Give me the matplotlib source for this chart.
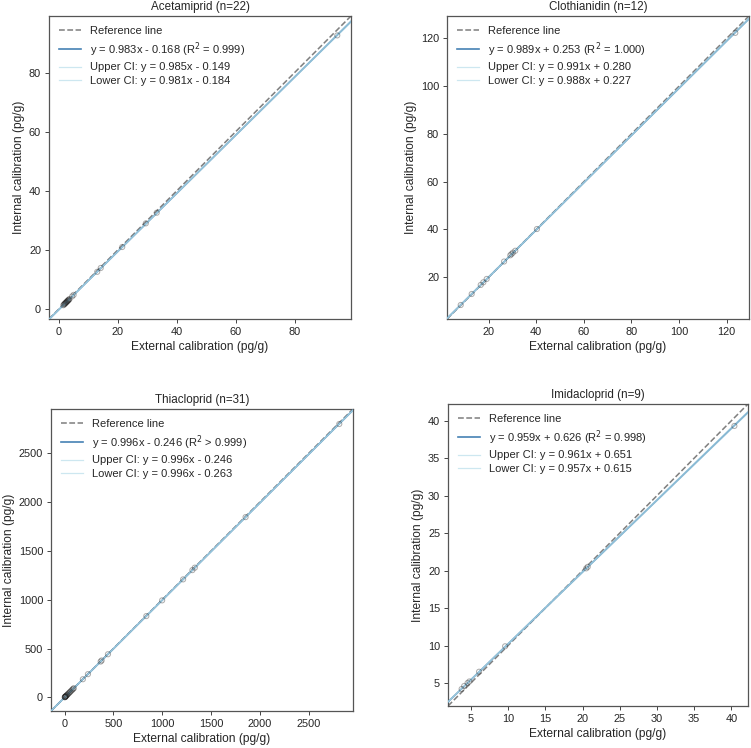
import numpy as np
import matplotlib
matplotlib.use('Agg')
from matplotlib import pyplot as plt

plt.rcParams['font.family'] = ['Liberation Sans', 'DejaVu Sans']

# ---- data ----
compounds = ['Acetamiprid', 'Clothianidin', 'Thiacloprid', 'Imidacloprid']

acet_ext = [1.5, 1.7, 1.9, 2.0, 2.2, 2.3, 2.5, 2.6, 2.8, 2.9, 3.1, 3.2, 3.4, 3.6,
            4.5, 5.0, 13.0, 14.2, 21.5, 29.5, 33.2, 94.5]
acet_int = [1.3, 1.5, 1.7, 1.8, 2.0, 2.1, 2.3, 2.4, 2.6, 2.7, 2.9, 3.0, 3.2, 3.4,
            4.3, 4.8, 12.6, 13.9, 21.0, 29.0, 32.6, 92.6]

clot_ext = [8.3, 12.9, 16.7, 17.8, 19.2, 26.5, 29.1, 29.6, 30.2, 31.2, 40.3, 123.6]
clot_int = [8.4, 13.0, 16.8, 17.9, 19.3, 26.6, 29.2, 29.7, 30.3, 31.1, 40.2, 122.3]

thia_ext = [2, 4, 5, 7, 9, 11, 14, 18, 22, 27, 33, 40, 48, 55, 63, 72, 80, 88, 95,
            188, 240, 370, 380, 445, 838, 1000, 1215, 1310, 1335, 1855, 2815]
thia_int = [2, 4, 5, 7, 9, 11, 14, 18, 22, 27, 33, 40, 48, 55, 63, 72, 80, 88, 95,
            187, 239, 368, 379, 443, 834, 995, 1210, 1305, 1330, 1848, 2802]

imid_ext = [3.76, 4.1, 4.56, 4.8, 6.1, 9.6, 20.5, 20.7, 40.4]
imid_int = [4.2, 4.6, 5.0, 5.2, 6.5, 9.9, 20.3, 20.5, 39.3]

# fit lines (slope, intercept) as printed on the chart
fit_main = [(0.983, -0.168), (0.989, 0.253), (0.996, -0.246), (0.959, 0.626)]
fit_upper = [(0.985, -0.149), (0.991, 0.280), (0.996, -0.246), (0.961, 0.651)]
fit_lower = [(0.981, -0.184), (0.988, 0.227), (0.996, -0.263), (0.957, 0.615)]
r2_text = ['= 0.999', '= 1.000', '> 0.999', '= 0.998']

xs = [acet_ext, clot_ext, thia_ext, imid_ext]
ys = [acet_int, clot_int, thia_int, imid_int]

# axes boxes in pixels: left, top, right, bottom
W, H = 751, 748
boxes = [(49, 16, 351, 319), (447, 16, 749, 319),
         (51, 409, 353, 711), (448, 404, 748, 706)]

fig = plt.figure(figsize=(W / 75, H / 75), dpi=75)


def fmt_line(m, b):
    sign = '-' if b < 0 else '+'
    return f'y = {m:.3f}x {sign} {abs(b):.3f}'


for i, name in enumerate(compounds):
    l, t, r, btm = boxes[i]
    ax = fig.add_axes([l / W, 1 - btm / H, (r - l) / W, (btm - t) / H])
    x = np.array(xs[i], dtype=float)
    y = np.array(ys[i], dtype=float)

    lo = min(x.min(), y.min())
    hi = max(x.max(), y.max())
    pad = (hi - lo) * 0.05
    lims = (lo - pad, hi + pad)
    xx = np.array(lims)

    ax.plot(xx, xx, ls='--', color='gray', lw=1.5, label='Reference line', zorder=2)
    m, b = fit_main[i]
    ax.plot(xx, m * xx + b, color='steelblue', lw=1.6,
            label=f'{fmt_line(m, b)} (R$^2$ {r2_text[i]})', zorder=3)
    m, b = fit_upper[i]
    ax.plot(xx, m * xx + b, color='lightblue', lw=1.2, alpha=0.6,
            label=f'Upper CI: {fmt_line(m, b)}', zorder=3)
    m, b = fit_lower[i]
    ax.plot(xx, m * xx + b, color='lightblue', lw=1.2, alpha=0.6,
            label=f'Lower CI: {fmt_line(m, b)}', zorder=3)
    ax.scatter(x, y, s=24, facecolors='none', edgecolors='#1a1a1a',
               alpha=0.35, linewidths=1, zorder=4)

    ax.set_xlim(lims)
    ax.set_ylim(lims)
    ax.set_title(f'{name} (n={len(x)})', fontsize=11.2, color='#262626')
    ax.set_xlabel('External calibration (pg/g)', fontsize=11.5, color='#262626')
    ax.set_ylabel('Internal calibration (pg/g)', fontsize=11.5, color='#262626')
    ax.tick_params(labelsize=10.5, colors='#262626', direction='out', length=4)
    for sp in ax.spines.values():
        sp.set_color('#555555')
        sp.set_linewidth(1.2)
    leg = ax.legend(loc='upper left', frameon=False, fontsize=10.7,
                    labelspacing=0.35)
    for text in leg.get_texts():
        text.set_color('#262626')

fig.savefig('out.png', dpi=75, facecolor='white')
